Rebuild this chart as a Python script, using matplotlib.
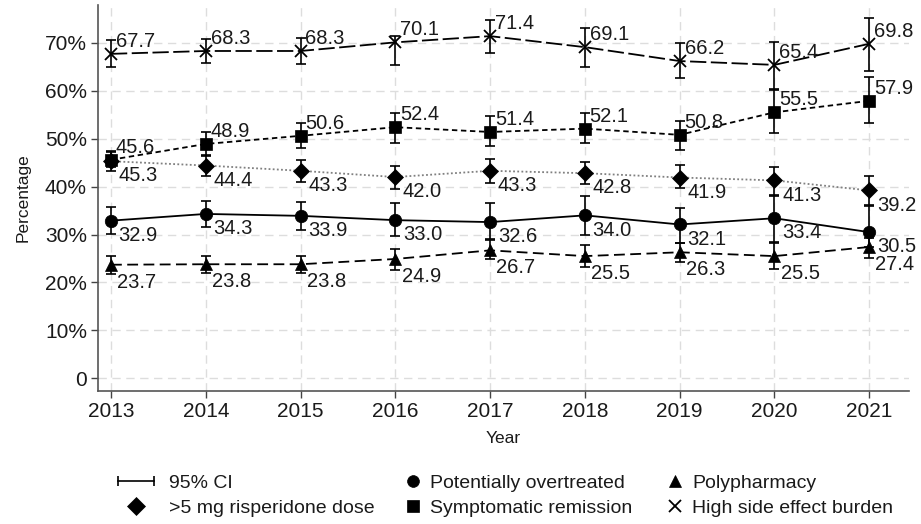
import matplotlib
matplotlib.use("Agg")
import matplotlib.pyplot as plt
from matplotlib.lines import Line2D
from matplotlib.legend_handler import HandlerLine2D
import numpy as np

plt.rcParams['font.family'] = ['Liberation Sans', 'DejaVu Sans']

years = [2013, 2014, 2015, 2016, 2017, 2018, 2019, 2020, 2021]

# point estimates (%)
side_effect = [67.7, 68.3, 68.3, 70.1, 71.4, 69.1, 66.2, 65.4, 69.8]
remission = [45.6, 48.9, 50.6, 52.4, 51.4, 52.1, 50.8, 55.5, 57.9]
risperidone = [45.3, 44.4, 43.3, 42.0, 43.3, 42.8, 41.9, 41.3, 39.2]
overtreated = [32.9, 34.3, 33.9, 33.0, 32.6, 34.0, 32.1, 33.4, 30.5]
polypharmacy = [23.7, 23.8, 23.8, 24.9, 26.7, 25.5, 26.3, 25.5, 27.4]

# 95% confidence limits (%)
side_effect_lo = [64.9, 65.7, 65.5, 65.3, 67.9, 64.9, 62.6, 60.1, 64.2]
side_effect_hi = [70.5, 70.9, 71.0, 71.5, 74.8, 73.0, 69.9, 70.2, 75.1]
remission_lo = [44.0, 46.4, 48.0, 49.1, 48.5, 49.0, 47.6, 51.1, 53.2]
remission_hi = [47.3, 51.3, 53.3, 55.4, 54.7, 55.3, 53.6, 60.4, 62.8]
risperidone_lo = [43.2, 42.3, 41.0, 39.6, 40.8, 40.5, 39.8, 38.1, 36.0]
risperidone_hi = [47.4, 46.6, 45.5, 44.3, 45.7, 45.2, 44.5, 44.1, 42.2]
overtreated_lo = [30.1, 31.5, 30.9, 29.6, 29.1, 30.0, 28.3, 28.3, 27.5]
overtreated_hi = [35.7, 37.1, 36.7, 36.5, 36.5, 38.1, 35.6, 38.3, 36.2]
polypharmacy_lo = [21.8, 22.0, 22.0, 22.7, 24.8, 23.3, 24.2, 22.9, 25.0]
polypharmacy_hi = [25.5, 25.6, 25.6, 27.0, 28.8, 27.8, 28.3, 28.4, 29.3]

y_ticks = [0, 10, 20, 30, 40, 50, 60, 70]
y_tick_labels = ['0', '10%', '20%', '30%', '40%', '50%', '60%', '70%']

fig = plt.figure(figsize=(9.21, 5.24), dpi=100)
ax = fig.add_axes([0.1064, 0.2538, 0.8806, 0.7367])

series = [
    # values, lo, hi, marker, markersize, linestyle, line colour, label position
    (side_effect, side_effect_lo, side_effect_hi, 'x', 9, (0, (9, 2.5)), 'black', 'up'),
    (remission, remission_lo, remission_hi, 's', 8.5, (0, (3, 2)), 'black', 'up'),
    (risperidone, risperidone_lo, risperidone_hi, 'D', 8, (0, (1, 1.3)), '#808080', 'down'),
    (overtreated, overtreated_lo, overtreated_hi, 'o', 9, '-', 'black', 'down'),
    (polypharmacy, polypharmacy_lo, polypharmacy_hi, '^', 9, (0, (6, 3)), 'black', 'down_t'),
]

x = np.array(years)
for vals, lo, hi, mk, ms, ls, lc, pos in series:
    v = np.array(vals)
    ax.errorbar(x, v, yerr=[v - np.array(lo), np.array(hi) - v], fmt='none',
                ecolor='black', elinewidth=1.2, capsize=3.5, capthick=1.2, zorder=3)
for vals, lo, hi, mk, ms, ls, lc, pos in series:
    ax.plot(x, vals, linestyle=ls, color=lc, linewidth=1.3, zorder=2)
    ax.plot(x, vals, linestyle='none', marker=mk, markersize=ms, color='black',
            markeredgewidth=1.3 if mk == 'x' else 0.5, zorder=4)
    for xi, yi in zip(x, vals):
        if pos == 'up':
            off = (3.5, 5)
        elif pos == 'down':
            off = (5.5, -14.5)
        else:
            off = (4.5, -16.5)
        ax.annotate(f"{yi:.1f}", (xi, yi), xytext=off, textcoords='offset points',
                    ha='left', va='baseline', fontsize=14.5, color='#1a1a1a', zorder=5)

ax.set_xlim(2012.863, 2021.42)
ax.set_ylim(-2.65, 77.9)
ax.set_xticks(years)
ax.set_xticklabels([str(y) for y in years])
ax.set_yticks(y_ticks)
ax.set_yticklabels(y_tick_labels)
ax.tick_params(axis='both', labelsize=15, length=5, width=1, color='#444444',
               labelcolor='#1a1a1a', pad=3)
ax.grid(True, color='#dddddd', linestyle=(0, (6, 4)), linewidth=1, zorder=0)
ax.set_axisbelow(True)
for s in ['top', 'right']:
    ax.spines[s].set_visible(False)
for s in ['left', 'bottom']:
    ax.spines[s].set_color('#555555')
    ax.spines[s].set_linewidth(1.2)
ax.set_xlabel('Year', fontsize=12.5, color='#1a1a1a', labelpad=7)
ax.set_ylabel('Percentage', fontsize=12.5, color='#1a1a1a', labelpad=10)

# legend: three columns placed individually
ci_handle = Line2D([], [], color='black', linewidth=1.2, marker='|', markersize=7,
                   markeredgewidth=1.2)
def mk_handle(m, ms):
    return Line2D([], [], linestyle='none', marker=m, markersize=ms, color='black',
                  markeredgewidth=1.3 if m == 'x' else 0.5)

legend_cols = [
    ([ci_handle, mk_handle('D', 9)], ['95% CI', '>5 mg risperidone dose'], 112, 2.45),
    ([mk_handle('o', 8.5), mk_handle('s', 8.5)],
     ['Potentially overtreated', 'Symptomatic remission'], 406, 0.75),
    ([mk_handle('^', 8.5), mk_handle('x', 8)],
     ['Polypharmacy', 'High side effect burden'], 668, 0.75),
]
for handles, labels, xpix, hl in legend_cols:
    leg = fig.legend(handles, labels, loc='center left',
                     bbox_to_anchor=(xpix / 921, 1 - 495.5 / 524),
                     frameon=False, fontsize=14, handlelength=hl, handletextpad=0.5,
                     borderpad=0, borderaxespad=0, labelspacing=0.35,
                     handler_map={ci_handle: HandlerLine2D(numpoints=2)})
    for t in leg.get_texts():
        t.set_color('#1a1a1a')

fig.savefig('out.png', dpi=100)
